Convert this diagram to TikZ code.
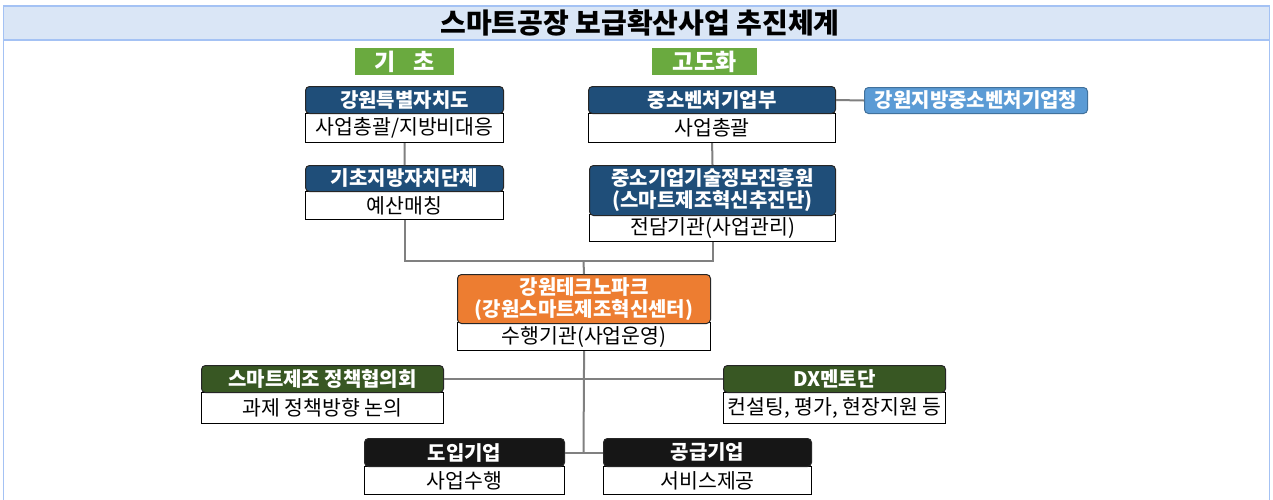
\documentclass[tikz,border=0pt]{standalone}
\usepackage{fontspec}
\setmainfont{Noto Sans CJK KR}
\definecolor{frameblue}{HTML}{A4C2F4}
\definecolor{titlefill}{HTML}{DAE6F6}
\definecolor{navy}{HTML}{1F4E79}
\definecolor{lblgreen}{HTML}{6AAA3F}
\definecolor{dkgreen}{HTML}{385723}
\definecolor{tporange}{HTML}{ED7D31}
\definecolor{skyblue}{HTML}{5B9BD5}
\definecolor{skyedge}{HTML}{41719C}
\definecolor{nearblack}{HTML}{161616}
\definecolor{conngray}{HTML}{808080}
\tikzset{
  hdr/.style={draw=black!85, line width=1pt, rounded corners=4pt, text=white,
    font=\bfseries\fontsize{20}{22}\selectfont, inner sep=0pt, align=center, anchor=north west},
  bodybox/.style={draw=black, line width=1.2pt, fill=white,
    font=\fontsize{20.5}{22}\selectfont, inner sep=0pt, anchor=north west},
  lbl/.style={fill=lblgreen, text=white, font=\bfseries\fontsize{23}{24}\selectfont,
    inner sep=0pt, anchor=north west, minimum height=27pt},
  conn/.style={draw=conngray, line width=2pt}
}
\begin{document}
\begin{tikzpicture}[x=1pt,y=-1pt]
\useasboundingbox (0,0) rectangle (1273,499);
\fill[white] (0,0) rectangle (1273,499);
% frame and title
\fill[titlefill] (3,6) rectangle (1270,40);
\draw[frameblue, line width=1.5pt] (3.5,520) -- (3.5,6) -- (1269.5,6) -- (1269.5,520);
\draw[frameblue, line width=1.5pt] (3.5,40) -- (1269.5,40);
\node[font=\bfseries\fontsize{28}{30}\selectfont] (title) at (640,23) {스마트공장 보급확산사업 추진체계};
% labels
\node[lbl, minimum width=99pt] (l1) at (355,48) {기\hspace{0.8em}초};
\node[lbl, minimum width=105pt] (l2) at (652,48) {고도화};
% coordinates
\coordinate (j1) at (583.5,261);
\coordinate (j3) at (583.5,452);
% boxes
\node[bodybox, minimum width=198pt, minimum height=29pt] (b1) at (305,113) {사업총괄/지방비대응};
\node[hdr, fill=navy, minimum width=198pt, minimum height=27pt] (h1) at (305,86) {강원특별자치도};
\node[bodybox, minimum width=247pt, minimum height=29pt] (b2) at (588,113) {사업총괄};
\node[hdr, fill=navy, minimum width=247pt, minimum height=27pt] (h2) at (588,86) {중소벤처기업부};
\node[hdr, fill=skyblue, draw=skyedge, minimum width=223pt, minimum height=26pt] (sm) at (864,87) {강원지방중소벤처기업청};
\node[bodybox, minimum width=198pt, minimum height=28pt] (b3) at (305,191) {예산매칭};
\node[hdr, fill=navy, minimum width=198pt, minimum height=26pt] (h3) at (305,165) {기초지방자치단체};
\node[bodybox, minimum width=246pt, minimum height=27pt] (b4) at (589,214) {전담기관(사업관리)};
\node[hdr, fill=navy, minimum width=246pt, minimum height=50pt] (h4) at (589,165) {중소기업기술정보진흥원\\(스마트제조혁신추진단)};
\node[bodybox, minimum width=253pt, minimum height=28pt] (b5) at (457,322) {수행기관(사업운영)};
\node[hdr, fill=tporange, minimum width=253pt, minimum height=49pt] (h5) at (457,274) {강원테크노파크\\(강원스마트제조혁신센터)};
\node[bodybox, minimum width=242pt, minimum height=31pt] (b6) at (201,392) {과제 정책방향 논의};
\node[hdr, fill=dkgreen, minimum width=242pt, minimum height=27pt] (h6) at (201,365) {스마트제조 정책협의회};
\node[bodybox, minimum width=222pt, minimum height=31pt] (b7) at (723,392) {컨설팅, 평가, 현장지원 등};
\node[hdr, fill=dkgreen, minimum width=222pt, minimum height=27pt] (h7) at (723,365) {DX멘토단};
\node[bodybox, minimum width=200pt, minimum height=28pt] (b8) at (364,466) {사업수행};
\node[hdr, fill=nearblack, minimum width=200pt, minimum height=28pt] (h8) at (364,438) {도입기업};
\node[bodybox, minimum width=208pt, minimum height=28pt] (b9) at (603,466) {서비스제공};
\node[hdr, fill=nearblack, minimum width=208pt, minimum height=28pt] (h9) at (603,438) {공급기업};
% connectors
\draw[conn] (b1.south) -- (h3.north);
\draw[conn] (b2.south) -- (h4.north);
\draw[conn] (h2.east) -- (sm.west);
\draw[conn] (b3.south) |- (j1) -| (b4.south);
\draw[conn] (j1) -- (h5.north);
\draw[conn] (b5.south) -- (j3);
\draw[conn] (h6.east) -- (h7.west);
\draw[conn] (h8.east) -- (h9.west);
\end{tikzpicture}
\end{document}
